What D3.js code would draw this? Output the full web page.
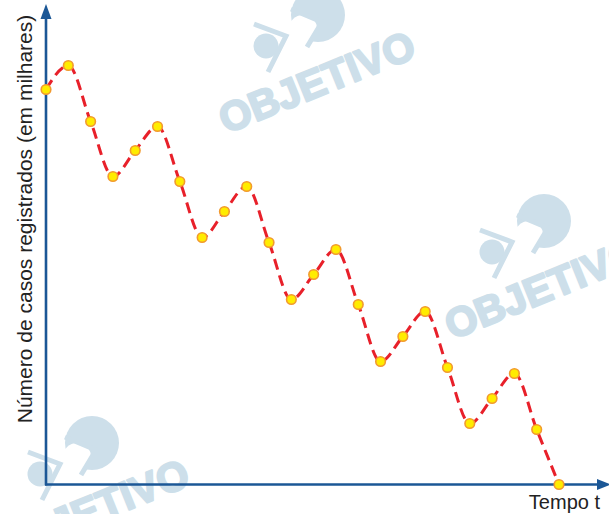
<!DOCTYPE html>
<html>
<head>
<meta charset="utf-8">
<script src="https://cdn.jsdelivr.net/npm/d3@7"></script>
<style>
  html, body { margin: 0; padding: 0; background: #fff; }
  svg { display: block; }
</style>
</head>
<body>
<script>
// ---- data ----
const times = [0,1,2,3,4,5,6,7,8,9,10,11,12,13,14,15,16,17,18,19,20,21,22,23];
const cases = [395,419,363,308,334,358,303,247,273,298,242,185,210,235,180,123,148,173,117,61,86,111,55,0];
const yLabel = "Número de casos registrados (em milhares)";
const xLabel = "Tempo t";
const watermarkText = "OBJETIVO";
const watermarkOffsets = [[0,0],[226,206],[-226,428]];

const W = 609, H = 514;
const svg = d3.select("body").append("svg").attr("width", W).attr("height", H);

// ---- watermark ----
const wmColor = "#cddfea";
const wmLayer = svg.append("g");
watermarkOffsets.forEach(([dx, dy]) => {
  const g = wmLayer.append("g").attr("transform", `translate(${dx},${dy})`);
  g.append("circle").attr("cx", 318).attr("cy", 15).attr("r", 27).attr("fill", wmColor);
  g.append("circle").attr("cx", 303).attr("cy", 29).attr("r", 14).attr("fill", "#fff");
  g.append("path").attr("d", "M291,9 L322,22 L307,47").attr("fill", "none")
    .attr("stroke", wmColor).attr("stroke-width", 5);
  g.append("circle").attr("cx", 266).attr("cy", 46).attr("r", 12.5).attr("fill", wmColor);
  g.append("path").attr("d", "M254,24 L286,36 L268,72").attr("fill", "none")
    .attr("stroke", wmColor).attr("stroke-width", 5);
  g.append("text").attr("transform", "translate(226,134) rotate(-22)")
    .attr("font-family", "Liberation Sans, Arial, sans-serif").attr("font-weight", "bold")
    .attr("font-size", 41).attr("fill", wmColor)
    .attr("stroke", wmColor).attr("stroke-width", 2.2).attr("stroke-linejoin", "round")
    .text(watermarkText);
});

// ---- scales ----
const x = d3.scaleLinear().domain([0, 23]).range([46, 559]);
const y = d3.scaleLinear().domain([0, 480]).range([484.5, 4.5]);

// ---- axes ----
const axisColor = "#1b5796";
const x0 = x(0), y0 = y(0);
const xAxisG = svg.append("g").attr("transform", `translate(0,${y0})`)
  .call(d3.axisBottom(x).tickValues([]).tickSizeOuter(0));
xAxisG.select(".domain").attr("d", `M${x0 - 1},0H${W - 8}`).attr("stroke", axisColor).attr("stroke-width", 2.6);
const yAxisG = svg.append("g").attr("transform", `translate(${x0},0)`)
  .call(d3.axisLeft(y).tickValues([]).tickSizeOuter(0));
yAxisG.select(".domain").attr("d", `M0,${y0 + 1}V14`).attr("stroke", axisColor).attr("stroke-width", 2.6);

svg.append("path").attr("d", `M${x0},4 L${x0 - 5.5},19 L${x0 + 5.5},19 Z`).attr("fill", axisColor);
svg.append("path").attr("d", `M${W + 2},${y0} L${W - 12},${y0 - 5.5} L${W - 12},${y0 + 5.5} Z`).attr("fill", axisColor);

// ---- labels ----
svg.append("text")
  .attr("transform", `translate(32,219) rotate(-90)`)
  .attr("text-anchor", "middle")
  .attr("font-family", "Liberation Sans, Arial, sans-serif")
  .attr("font-size", 21).attr("fill", "#222")
  .text(yLabel);
svg.append("text")
  .attr("x", 600).attr("y", 509)
  .attr("text-anchor", "end")
  .attr("font-family", "Liberation Sans, Arial, sans-serif")
  .attr("font-size", 20).attr("fill", "#222")
  .text(xLabel);

// ---- line ----
const data = times.map((t, i) => ({ t, v: cases[i] }));
const line = d3.line().x(d => x(d.t)).y(d => y(d.v)).curve(d3.curveMonotoneX);
svg.append("path").datum(data).attr("d", line)
  .attr("fill", "none").attr("stroke", "#e8202a").attr("stroke-width", 3)
  .attr("stroke-dasharray", "11,6");

// ---- points ----
svg.append("g").selectAll("circle").data(data).join("circle")
  .attr("cx", d => x(d.t)).attr("cy", d => y(d.v)).attr("r", 4.8)
  .attr("fill", "#ffec00").attr("stroke", "#f29a2e").attr("stroke-width", 1.6);
</script>
</body>
</html>
